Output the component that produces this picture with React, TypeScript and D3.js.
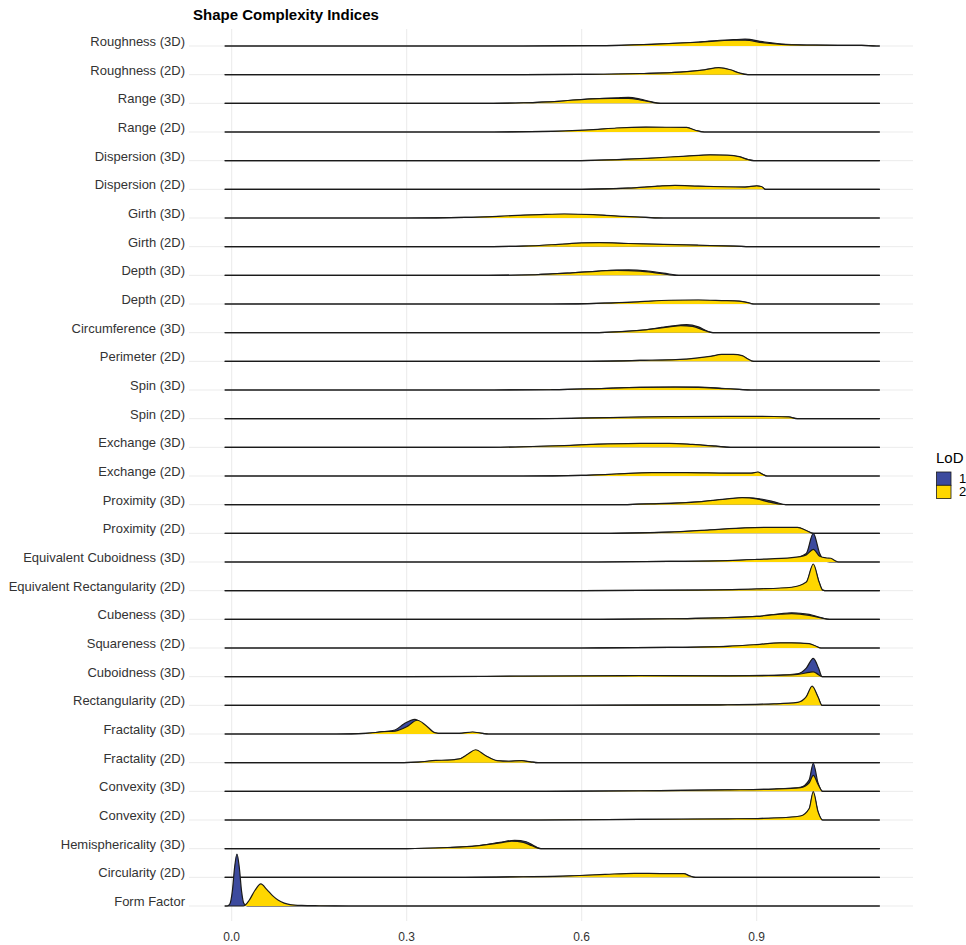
import React from 'react';
import * as d3 from 'd3';

type Pt = [number, number];

const W = 966;
const H = 945;

const rowLabels: string[] = [
  'Roughness (3D)', 'Roughness (2D)', 'Range (3D)', 'Range (2D)', 'Dispersion (3D)', 'Dispersion (2D)',
  'Girth (3D)', 'Girth (2D)', 'Depth (3D)', 'Depth (2D)', 'Circumference (3D)', 'Perimeter (2D)',
  'Spin (3D)', 'Spin (2D)', 'Exchange (3D)', 'Exchange (2D)', 'Proximity (3D)', 'Proximity (2D)',
  'Equivalent Cuboidness (3D)', 'Equivalent Rectangularity (2D)', 'Cubeness (3D)', 'Squareness (2D)',
  'Cuboidness (3D)', 'Rectangularity (2D)', 'Fractality (3D)', 'Fractality (2D)', 'Convexity (3D)',
  'Convexity (2D)', 'Hemisphericality (3D)', 'Circularity (2D)', 'Form Factor',
];

// scaled density (1 = one row step) for LoD 1
const lod1: Pt[][] = [
  [[0.5, 0], [0.62, 0.01], [0.72, 0.06], [0.8, 0.14], [0.86, 0.22], [0.88, 0.24], [0.91, 0.15], [0.95, 0.06], [1.0, 0.03], [1.08, 0.02], [1.105, 0]],
  [[0.5, 0], [0.6, 0.01], [0.7, 0.04], [0.77, 0.09], [0.81, 0.16], [0.835, 0.23], [0.855, 0.16], [0.87, 0.05], [0.885, 0]],
  [[0.42, 0], [0.5, 0.02], [0.56, 0.07], [0.61, 0.15], [0.66, 0.19], [0.68, 0.21], [0.7, 0.15], [0.72, 0.05], [0.735, 0]],
  [[0.45, 0], [0.55, 0.02], [0.62, 0.07], [0.66, 0.13], [0.71, 0.16], [0.75, 0.155], [0.78, 0.15], [0.795, 0.05], [0.81, 0]],
  [[0.55, 0], [0.65, 0.03], [0.72, 0.08], [0.78, 0.15], [0.82, 0.19], [0.85, 0.18], [0.87, 0.13], [0.885, 0.04], [0.895, 0]],
  [[0.6, 0], [0.68, 0.04], [0.73, 0.1], [0.76, 0.13], [0.8, 0.1], [0.84, 0.085], [0.88, 0.075], [0.9, 0.11], [0.908, 0.09], [0.915, 0]],
  [[0.3, 0], [0.4, 0.02], [0.48, 0.07], [0.53, 0.11], [0.57, 0.13], [0.62, 0.11], [0.67, 0.05], [0.71, 0.02], [0.74, 0]],
  [[0.42, 0], [0.5, 0.02], [0.56, 0.07], [0.6, 0.12], [0.63, 0.13], [0.68, 0.1], [0.74, 0.07], [0.8, 0.045], [0.86, 0.02], [0.9, 0]],
  [[0.44, 0], [0.52, 0.02], [0.58, 0.08], [0.63, 0.15], [0.68, 0.19], [0.71, 0.16], [0.74, 0.08], [0.77, 0]],
  [[0.55, 0], [0.64, 0.03], [0.7, 0.07], [0.75, 0.12], [0.8, 0.13], [0.84, 0.11], [0.87, 0.09], [0.885, 0.04], [0.895, 0]],
  [[0.6, 0], [0.66, 0.03], [0.71, 0.1], [0.75, 0.22], [0.78, 0.28], [0.8, 0.2], [0.815, 0.06], [0.825, 0]],
  [[0.6, 0], [0.7, 0.03], [0.78, 0.07], [0.82, 0.16], [0.84, 0.23], [0.86, 0.23], [0.875, 0.19], [0.885, 0.07], [0.895, 0]],
  [[0.45, 0], [0.55, 0.01], [0.62, 0.04], [0.7, 0.09], [0.76, 0.1], [0.8, 0.1], [0.84, 0.06], [0.87, 0.02], [0.89, 0]],
  [[0.5, 0], [0.6, 0.02], [0.68, 0.045], [0.75, 0.065], [0.85, 0.075], [0.93, 0.07], [0.955, 0.055], [0.97, 0]],
  [[0.42, 0], [0.5, 0.02], [0.57, 0.055], [0.63, 0.1], [0.7, 0.125], [0.75, 0.13], [0.79, 0.095], [0.83, 0.04], [0.855, 0]],
  [[0.5, 0], [0.6, 0.02], [0.66, 0.065], [0.72, 0.11], [0.78, 0.11], [0.85, 0.095], [0.89, 0.095], [0.902, 0.13], [0.91, 0.055], [0.918, 0]],
  [[0.65, 0], [0.72, 0.03], [0.8, 0.1], [0.85, 0.19], [0.88, 0.24], [0.91, 0.19], [0.93, 0.1], [0.95, 0]],
  [[0.65, 0], [0.75, 0.04], [0.82, 0.11], [0.88, 0.18], [0.93, 0.2], [0.97, 0.2], [0.985, 0.09], [0.997, 0]],
  [[0.6, 0], [0.75, 0.02], [0.85, 0.05], [0.9, 0.08], [0.96, 0.12], [0.985, 0.3], [0.997, 1.0], [1.008, 0.3], [1.015, 0.05], [1.025, 0]],
  [[0.6, 0], [0.8, 0.02], [0.9, 0.05], [0.96, 0.11], [0.985, 0.28], [0.997, 0.88], [1.007, 0.28], [1.013, 0.02], [1.02, 0]],
  [[0.6, 0], [0.75, 0.02], [0.85, 0.06], [0.9, 0.1], [0.94, 0.19], [0.96, 0.23], [0.99, 0.17], [1.01, 0.06], [1.025, 0]],
  [[0.6, 0], [0.75, 0.02], [0.85, 0.055], [0.9, 0.11], [0.94, 0.17], [0.96, 0.17], [0.99, 0.14], [1.0, 0.07], [1.01, 0]],
  [[0.3, 0], [0.5, 0.01], [0.7, 0.02], [0.85, 0.03], [0.93, 0.05], [0.97, 0.1], [0.985, 0.3], [0.997, 0.64], [1.006, 0.3], [1.012, 0]],
  [[0.5, 0], [0.7, 0.01], [0.85, 0.02], [0.93, 0.045], [0.97, 0.09], [0.985, 0.28], [0.995, 0.62], [1.005, 0.28], [1.012, 0]],
  [[0.18, 0], [0.23, 0.02], [0.26, 0.08], [0.28, 0.14], [0.295, 0.35], [0.314, 0.51], [0.33, 0.28], [0.345, 0.05], [0.36, 0.02], [0.39, 0.02], [0.413, 0.06], [0.43, 0.02], [0.44, 0]],
  [[0.27, 0], [0.32, 0.02], [0.35, 0.07], [0.37, 0.08], [0.39, 0.12], [0.405, 0.28], [0.418, 0.42], [0.435, 0.23], [0.455, 0.06], [0.475, 0.045], [0.497, 0.06], [0.512, 0.03], [0.525, 0]],
  [[0.5, 0], [0.7, 0.02], [0.85, 0.05], [0.93, 0.08], [0.975, 0.14], [0.99, 0.4], [0.997, 0.98], [1.005, 0.3], [1.013, 0]],
  [[0.5, 0], [0.7, 0.02], [0.85, 0.035], [0.93, 0.065], [0.975, 0.13], [0.99, 0.37], [0.997, 0.93], [1.005, 0.28], [1.013, 0]],
  [[0.3, 0], [0.37, 0.04], [0.42, 0.1], [0.46, 0.22], [0.485, 0.29], [0.505, 0.24], [0.52, 0.08], [0.53, 0]],
  [[0.4, 0], [0.5, 0.02], [0.58, 0.045], [0.64, 0.09], [0.69, 0.13], [0.74, 0.12], [0.775, 0.12], [0.785, 0.045], [0.795, 0]],
  [[-0.008, 0], [-0.003, 0.08], [0.001, 0.5], [0.005, 1.35], [0.009, 1.81], [0.013, 1.35], [0.017, 0.5], [0.021, 0.08], [0.027, 0]],
];

// scaled density (1 = one row step) for LoD 2
const lod2: Pt[][] = [
  [[0.5, 0], [0.62, 0.01], [0.72, 0.06], [0.8, 0.13], [0.86, 0.2], [0.88, 0.2], [0.91, 0.12], [0.95, 0.05], [1.0, 0.03], [1.08, 0.02], [1.105, 0]],
  [[0.5, 0], [0.6, 0.01], [0.7, 0.04], [0.77, 0.09], [0.81, 0.17], [0.835, 0.245], [0.855, 0.17], [0.87, 0.06], [0.885, 0]],
  [[0.42, 0], [0.5, 0.02], [0.56, 0.07], [0.61, 0.15], [0.65, 0.17], [0.68, 0.17], [0.7, 0.12], [0.72, 0.04], [0.735, 0]],
  [[0.45, 0], [0.55, 0.02], [0.62, 0.08], [0.66, 0.14], [0.71, 0.17], [0.75, 0.165], [0.78, 0.16], [0.795, 0.06], [0.81, 0]],
  [[0.55, 0], [0.65, 0.03], [0.72, 0.09], [0.78, 0.16], [0.82, 0.2], [0.85, 0.19], [0.87, 0.14], [0.885, 0.04], [0.895, 0]],
  [[0.6, 0], [0.68, 0.04], [0.73, 0.11], [0.76, 0.14], [0.8, 0.11], [0.84, 0.09], [0.88, 0.08], [0.9, 0.12], [0.908, 0.1], [0.915, 0]],
  [[0.3, 0], [0.4, 0.02], [0.48, 0.08], [0.53, 0.12], [0.57, 0.14], [0.62, 0.12], [0.67, 0.06], [0.71, 0.02], [0.74, 0]],
  [[0.42, 0], [0.5, 0.02], [0.56, 0.08], [0.6, 0.13], [0.63, 0.14], [0.68, 0.11], [0.74, 0.08], [0.8, 0.05], [0.86, 0.02], [0.9, 0]],
  [[0.44, 0], [0.52, 0.02], [0.58, 0.08], [0.63, 0.15], [0.66, 0.17], [0.7, 0.15], [0.73, 0.08], [0.76, 0]],
  [[0.55, 0], [0.64, 0.03], [0.7, 0.08], [0.75, 0.13], [0.8, 0.14], [0.84, 0.12], [0.87, 0.1], [0.885, 0.05], [0.895, 0]],
  [[0.6, 0], [0.66, 0.03], [0.71, 0.1], [0.75, 0.2], [0.77, 0.245], [0.79, 0.22], [0.81, 0.08], [0.825, 0]],
  [[0.6, 0], [0.7, 0.03], [0.78, 0.08], [0.82, 0.17], [0.84, 0.24], [0.86, 0.24], [0.875, 0.2], [0.885, 0.08], [0.895, 0]],
  [[0.45, 0], [0.55, 0.01], [0.62, 0.04], [0.7, 0.09], [0.76, 0.1], [0.8, 0.09], [0.84, 0.05], [0.87, 0.02], [0.89, 0]],
  [[0.5, 0], [0.6, 0.02], [0.68, 0.05], [0.75, 0.07], [0.85, 0.08], [0.93, 0.075], [0.955, 0.06], [0.97, 0]],
  [[0.42, 0], [0.5, 0.02], [0.57, 0.06], [0.63, 0.11], [0.7, 0.135], [0.75, 0.14], [0.79, 0.1], [0.83, 0.04], [0.855, 0]],
  [[0.5, 0], [0.6, 0.02], [0.66, 0.07], [0.72, 0.12], [0.78, 0.12], [0.85, 0.1], [0.89, 0.1], [0.902, 0.14], [0.91, 0.06], [0.918, 0]],
  [[0.65, 0], [0.72, 0.03], [0.8, 0.1], [0.85, 0.2], [0.875, 0.245], [0.9, 0.2], [0.92, 0.1], [0.94, 0.02], [0.95, 0]],
  [[0.65, 0], [0.75, 0.04], [0.82, 0.12], [0.88, 0.19], [0.93, 0.21], [0.97, 0.21], [0.985, 0.1], [0.997, 0]],
  [[0.6, 0], [0.75, 0.02], [0.85, 0.05], [0.9, 0.09], [0.96, 0.15], [0.985, 0.25], [0.997, 0.44], [1.008, 0.2], [1.02, 0.14], [1.027, 0.13], [1.035, 0.04], [1.04, 0]],
  [[0.6, 0], [0.8, 0.02], [0.9, 0.06], [0.96, 0.12], [0.985, 0.3], [0.997, 0.93], [1.007, 0.3], [1.013, 0.02], [1.02, 0]],
  [[0.6, 0], [0.75, 0.02], [0.85, 0.06], [0.9, 0.1], [0.94, 0.18], [0.96, 0.2], [0.99, 0.14], [1.01, 0.05], [1.025, 0]],
  [[0.6, 0], [0.75, 0.02], [0.85, 0.06], [0.9, 0.12], [0.94, 0.18], [0.96, 0.18], [0.99, 0.15], [1.0, 0.08], [1.01, 0]],
  [[0.3, 0], [0.5, 0.02], [0.7, 0.04], [0.85, 0.03], [0.92, 0.04], [0.97, 0.08], [0.99, 0.15], [0.997, 0.17], [1.005, 0.08], [1.012, 0]],
  [[0.5, 0], [0.7, 0.01], [0.85, 0.02], [0.93, 0.05], [0.97, 0.1], [0.985, 0.3], [0.995, 0.67], [1.005, 0.3], [1.012, 0]],
  [[0.18, 0], [0.23, 0.02], [0.26, 0.08], [0.28, 0.1], [0.3, 0.25], [0.318, 0.48], [0.333, 0.3], [0.348, 0.05], [0.36, 0.02], [0.39, 0.02], [0.413, 0.07], [0.43, 0.02], [0.44, 0]],
  [[0.27, 0], [0.32, 0.02], [0.35, 0.08], [0.37, 0.09], [0.39, 0.13], [0.405, 0.3], [0.418, 0.45], [0.435, 0.25], [0.455, 0.07], [0.475, 0.05], [0.497, 0.07], [0.512, 0.03], [0.525, 0]],
  [[0.5, 0], [0.7, 0.02], [0.85, 0.05], [0.93, 0.08], [0.975, 0.13], [0.99, 0.3], [0.997, 0.56], [1.005, 0.25], [1.013, 0]],
  [[0.5, 0], [0.7, 0.02], [0.85, 0.04], [0.93, 0.07], [0.975, 0.14], [0.99, 0.4], [0.997, 0.99], [1.005, 0.3], [1.013, 0]],
  [[0.3, 0], [0.37, 0.04], [0.42, 0.1], [0.46, 0.2], [0.48, 0.26], [0.5, 0.22], [0.515, 0.1], [0.53, 0]],
  [[0.4, 0], [0.5, 0.02], [0.58, 0.05], [0.64, 0.1], [0.69, 0.14], [0.74, 0.13], [0.775, 0.13], [0.785, 0.05], [0.795, 0]],
  [[0.02, 0], [0.03, 0.2], [0.04, 0.55], [0.05, 0.77], [0.06, 0.58], [0.07, 0.36], [0.08, 0.2], [0.09, 0.1], [0.1, 0.05], [0.12, 0.02], [0.15, 0.008], [0.2, 0]],
];

const xTicks: number[] = [0, 0.3, 0.6, 0.9];
const lodLevels: string[] = ['1', '2'];
const lodColors: string[] = ['#3C4A9E', '#FFD700'];
const xExtent: [number, number] = [-0.012, 1.111];

const FONT = '"Liberation Sans", Arial, Helvetica, sans-serif';

export default function App() {
  const x = d3.scaleLinear().domain([0, 0.9]).range([231.7, 756.7]);
  const n = rowLabels.length;
  const y = d3.scaleLinear().domain([0, n - 1]).range([46, 906]);
  const step = (906 - 46) / (n - 1);
  const h = d3.scaleLinear().domain([0, 1]).range([0, step]);
  const panel = { left: 189, right: 913, top: 29, bottom: 921 };

  const withEnds = (pts: Pt[]): Pt[] => {
    const out: Pt[] = [];
    if (pts[0][0] > xExtent[0] + 1e-6) out.push([xExtent[0], 0]);
    out.push(...pts);
    if (pts[pts.length - 1][0] < xExtent[1] - 1e-6) out.push([xExtent[1], 0]);
    return out;
  };

  const series = [lod1, lod2];

  return (
    <svg width={W} height={H} style={{ position: 'absolute', left: 0, top: 0, background: '#fff' }}>
      <rect x={0} y={0} width={W} height={H} fill="#fff" />
      {/* grid */}
      {rowLabels.map((_, i) => (
        <line key={'hg' + i} x1={panel.left} x2={panel.right} y1={y(i)} y2={y(i)} stroke="#EBEBEB" strokeWidth={1} />
      ))}
      {xTicks.map((t) => (
        <line key={'vg' + t} x1={x(t)} x2={x(t)} y1={panel.top} y2={panel.bottom} stroke="#EBEBEB" strokeWidth={1} />
      ))}
      {/* ridges: top rows first so lower ridges are in front */}
      {rowLabels.map((_, i) => {
        const base = y(i);
        return (
          <g key={'row' + i}>
            {series.map((s, k) => {
              const pts = withEnds(s[i]);
              const area = d3
                .area<Pt>()
                .x((d) => x(d[0]))
                .y0(base)
                .y1((d) => base - h(d[1]))
                .curve(d3.curveMonotoneX);
              const line = d3
                .line<Pt>()
                .x((d) => x(d[0]))
                .y((d) => base - h(d[1]))
                .curve(d3.curveMonotoneX);
              return (
                <g key={k}>
                  <path d={area(pts) || ''} fill={lodColors[k]} stroke="none" />
                  <path d={line(pts) || ''} fill="none" stroke="#1a1a1a" strokeWidth={1.2} strokeLinejoin="round" />
                </g>
              );
            })}
          </g>
        );
      })}
      {/* y labels */}
      {rowLabels.map((l, i) => (
        <text key={'yl' + i} x={185} y={y(i)} textAnchor="end" fontFamily={FONT} fontSize={13} fill="#333">
          {l}
        </text>
      ))}
      {/* x tick labels */}
      {xTicks.map((t) => (
        <text key={'xl' + t} x={x(t)} y={941} textAnchor="middle" fontFamily={FONT} fontSize={12} fill="#333">
          {d3.format('.1f')(t)}
        </text>
      ))}
      {/* title */}
      <text x={193} y={20} fontFamily={FONT} fontSize={15} fontWeight="bold" fill="#000">
        Shape Complexity Indices
      </text>
      {/* legend */}
      <text x={936} y={463} fontFamily={FONT} fontSize={15} fill="#000">
        LoD
      </text>
      {lodLevels.map((lv, k) => (
        <g key={'lg' + lv}>
          <rect x={936.5} y={472 + k * 13.3} width={14.5} height={13.3} fill={lodColors[k]} stroke="#1a1a1a" strokeWidth={0.8} />
          <text x={959} y={483 + k * 13.3} fontFamily={FONT} fontSize={13} fill="#000">
            {lv}
          </text>
        </g>
      ))}
    </svg>
  );
}
